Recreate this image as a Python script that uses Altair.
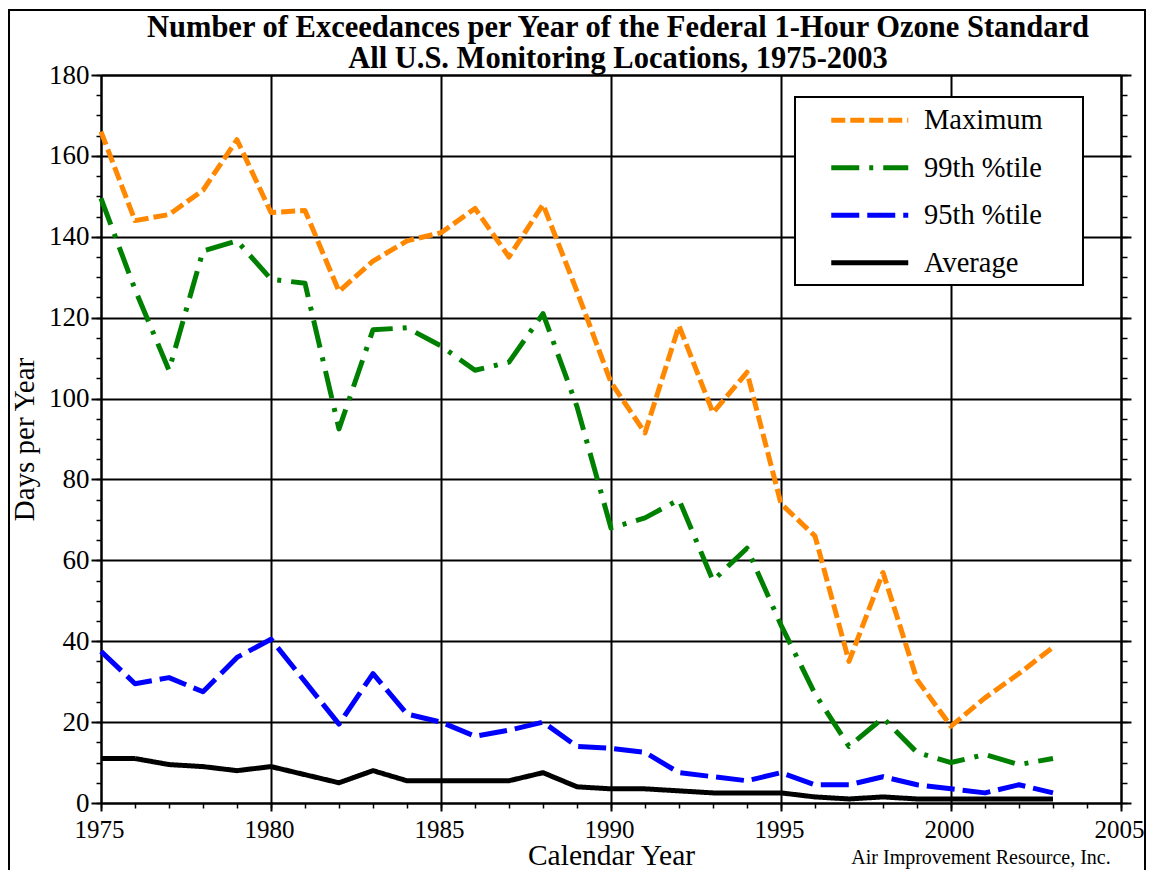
import altair as alt
import pandas as pd

years = list(range(1975, 2004))
maximum = [166, 144, 145.5, 151.5, 164, 146, 146.5, 126.5, 134, 139, 141, 147, 135, 148, 126.5,
           104, 91.5, 118, 96.5, 106.5, 74, 66, 35, 57, 30.5, 19, 26, 32, 38.5]
p99 = [149.5, 127, 107, 136.5, 139, 129.5, 128.5, 92.5, 117, 117.5, 113, 107, 109, 121, 98,
       68, 70.5, 75, 55, 63, 44, 27, 14, 21, 12.5, 10, 12, 9.5, 11]
p95 = [37.5, 29.5, 31, 27.5, 36, 40.5, 30, 19.5, 32, 22, 20, 16.5, 18, 20, 14,
       13.5, 12.5, 7.5, 6.5, 5.5, 7.5, 4.5, 4.5, 6.5, 4.5, 3.5, 2.5, 4.5, 2.5]
average = [11, 11, 9.5, 9, 8, 9, 7, 5, 8, 5.5, 5.5, 5.5, 5.5, 7.5, 4,
           3.5, 3.5, 3, 2.5, 2.5, 2.5, 1.5, 1, 1.5, 1, 1, 1, 1, 1]

series_names = ["Maximum", "99th %tile", "95th %tile", "Average"]
series_values = [maximum, p99, p95, average]
series_colors = ["#FF8800", "#008000", "#0000FF", "#000000"]
series_dashes = [[14, 5], [28, 10, 4, 10], [28, 8], [1, 0]]
series_widths = [5, 5, 6, 5.5]

title_lines = ["Number of Exceedances per Year of the Federal 1-Hour Ozone Standard",
               "All U.S. Monitoring Locations, 1975-2003"]
x_title = "Calendar Year"
y_title = "Days per Year"
credit = "Air Improvement Resource, Inc."

x_major = list(range(1975, 2006, 5))
x_minor = list(range(1975, 2006))
y_major = list(range(0, 181, 20))
y_minor = list(range(0, 181, 5))

rows = []
for name, vals in zip(series_names, series_values):
    for yr, v in zip(years, vals):
        rows.append({"year": yr, "days": v, "series": name})
df = pd.DataFrame(rows)

FONT = "Liberation Serif"
W, H = 1020, 728

xscale = alt.Scale(domain=[1975, 2005], nice=False, zero=False)
yscale = alt.Scale(domain=[0, 180], nice=False, zero=False)

legend = alt.Legend(
    orient="none", legendX=694, legendY=22, title=None,
    symbolType="M-3.85,0H3.85", symbolSize=400,
    labelFont=FONT, labelFontSize=28.5, labelColor="black", labelLimit=400,
    padding=9, rowPadding=18.5, symbolOffset=51.5, labelOffset=40,
)

base = alt.Chart(df)

lines = base.mark_line(strokeJoin="round", strokeCap="butt").encode(
    x=alt.X("year:Q", scale=xscale,
            axis=alt.Axis(orient="bottom", values=x_major, format="d", grid=True,
                          gridColor="black", gridWidth=2, gridOpacity=1,
                          domainColor="black", domainWidth=2,
                          tickColor="black", tickWidth=2, tickSize=8,
                          labelFont=FONT, labelFontSize=25, labelColor="black",
                          labelPadding=6, labelFlush=False, labelOffset=-2,
                          title=x_title, titleFont=FONT, titleFontSize=29.5,
                          titleFontWeight="normal", titleColor="black",
                          titleX=510, titleY=61, titleBaseline="alphabetic",
                          titleAlign="center")),
    y=alt.Y("days:Q", scale=yscale,
            axis=alt.Axis(orient="left", values=y_major, grid=True,
                          gridColor="black", gridWidth=2, gridOpacity=1,
                          domainColor="black", domainWidth=2,
                          tickColor="black", tickWidth=2, tickSize=10,
                          labelFont=FONT, labelFontSize=27, labelColor="black",
                          labelPadding=2, labelFlush=False,
                          title=y_title, titleFont=FONT, titleFontSize=29,
                          titleFontWeight="normal", titleColor="black",
                          titleAngle=270, titleX=-77, titleY=364,
                          titleAlign="center", titleBaseline="middle")),
    color=alt.Color("series:N", sort=series_names,
                    scale=alt.Scale(domain=series_names, range=series_colors),
                    legend=legend),
    strokeDash=alt.StrokeDash("series:N", sort=series_names,
                              scale=alt.Scale(domain=series_names, range=series_dashes),
                              legend=legend),
    strokeWidth=alt.StrokeWidth("series:N", sort=series_names,
                                scale=alt.Scale(domain=series_names, range=series_widths),
                                legend=legend),
    detail="series:N",
)

minor = base.mark_point(opacity=0).encode(
    x=alt.X("year:Q", scale=xscale,
            axis=alt.Axis(orient="bottom", values=x_minor, grid=False, domain=False,
                          labels=False, title=None, tickColor="black", tickWidth=1.5,
                          tickSize=5)),
    y=alt.Y("days:Q", scale=yscale,
            axis=alt.Axis(orient="left", values=y_minor, grid=False, domain=False,
                          labels=False, title=None, tickColor="black", tickWidth=1.5,
                          tickSize=5)),
)

topright = base.mark_point(opacity=0).encode(
    x=alt.X("year:Q", scale=xscale,
            axis=alt.Axis(orient="top", grid=False, domain=True, domainColor="black",
                          domainWidth=2, ticks=False, labels=False, title=None)),
    y=alt.Y("days:Q", scale=yscale,
            axis=alt.Axis(orient="right", values=y_major, grid=False, domain=True,
                          domainColor="black", domainWidth=2, labels=False, title=None,
                          tickColor="black", tickWidth=2, tickSize=10)),
)

rightminor = base.mark_point(opacity=0).encode(
    x=alt.X("year:Q", scale=xscale, axis=None),
    y=alt.Y("days:Q", scale=yscale,
            axis=alt.Axis(orient="right", values=y_minor, grid=False, domain=False,
                          labels=False, title=None, tickColor="black", tickWidth=1.5,
                          tickSize=6)),
)

one = pd.DataFrame({"k": [0]})

frame = alt.Chart(one).mark_rect(
    fillOpacity=0, stroke="black", strokeWidth=2
).encode(
    x=alt.value(-92), x2=alt.value(1044), y=alt.value(-65), y2=alt.value(812)
)

legend_box = alt.Chart(one).mark_rect(
    fill="white", stroke="black", strokeWidth=2
).encode(
    x=alt.value(694), x2=alt.value(982), y=alt.value(22), y2=alt.value(210)
)

credit_text = alt.Chart(pd.DataFrame({"t": [credit]})).mark_text(
    font=FONT, fontSize=20, color="black", align="center", baseline="alphabetic"
).encode(
    text="t:N", x=alt.value(880), y=alt.value(789)
)

chart = alt.layer(legend_box, lines, minor, topright, rightminor, frame, credit_text).resolve_axis(
    x="independent", y="independent"
).properties(
    width=W, height=H,
    title=alt.TitleParams(text=title_lines, anchor="middle", frame="group",
                          font=FONT, fontSize=30.5, fontWeight="bold", color="black",
                          lineHeight=31, offset=8, dx=7, dy=73),
    autosize=alt.AutoSizeParams(type="none"),
    padding={"left": 93, "top": 67, "right": 25, "bottom": 67},
).configure_view(stroke=None).configure(
    background="white"
)

chart.save("out.html", embed_options={"renderer": "svg", "actions": False})
